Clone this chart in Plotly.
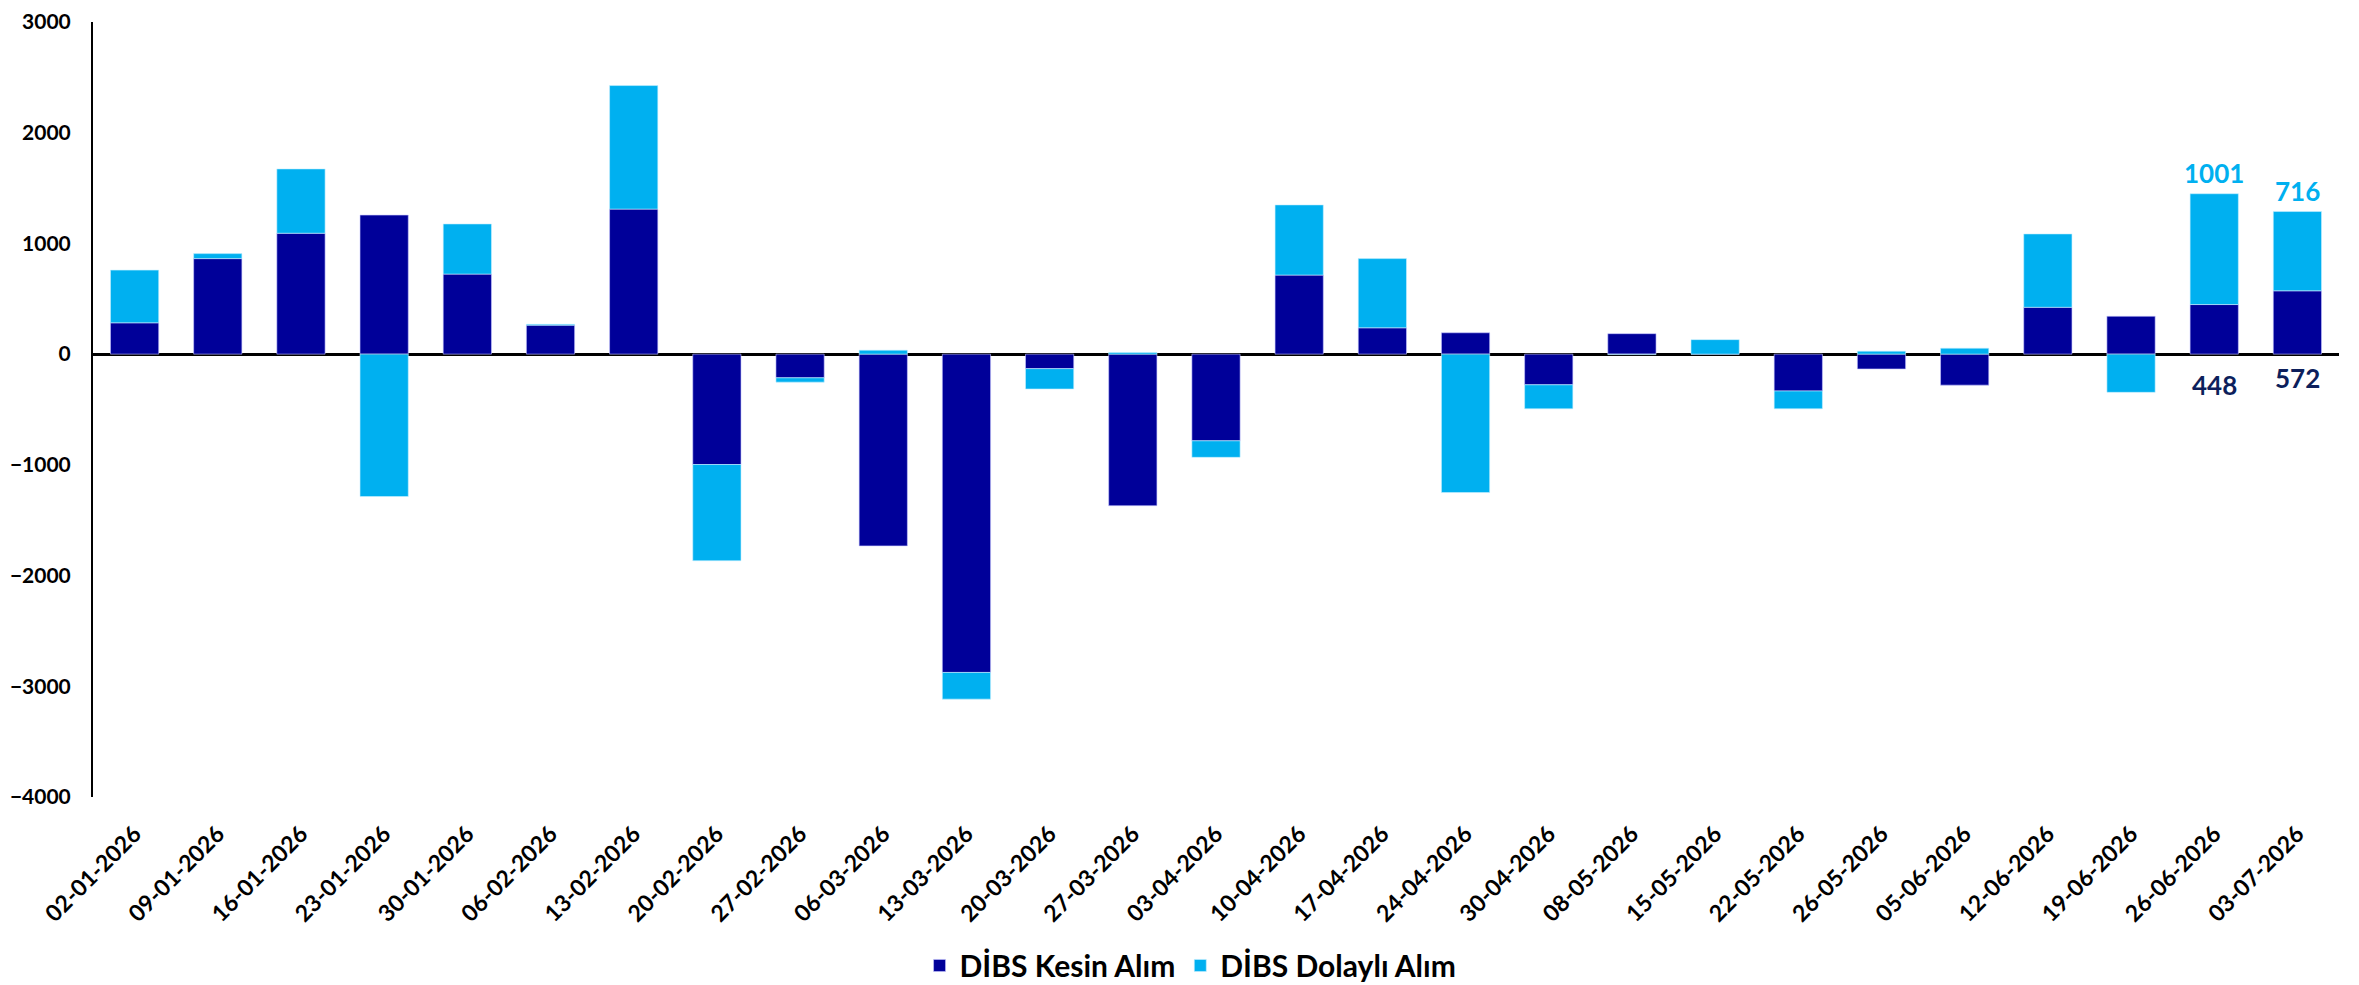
import plotly.graph_objects as go

dates = ["02-01-2026", "09-01-2026", "16-01-2026", "23-01-2026", "30-01-2026", "06-02-2026",
         "13-02-2026", "20-02-2026", "27-02-2026", "06-03-2026", "13-03-2026", "20-03-2026",
         "27-03-2026", "03-04-2026", "10-04-2026", "17-04-2026", "24-04-2026", "30-04-2026",
         "08-05-2026", "15-05-2026", "22-05-2026", "26-05-2026", "05-06-2026", "12-06-2026",
         "19-06-2026", "26-06-2026", "03-07-2026"]

kesin = [283, 863, 1092, 1256, 723, 262, 1310, -997, -214, -1732, -2875, -131, -1369, -783,
         714, 238, 193, -277, 185, 0, -333, -134, -280, 423, 342, 448, 572]

dolayli = [476, 45, 581, -1286, 453, 8, 1116, -869, -39, 36, -241, -184, 15, -149,
           634, 625, -1250, -217, -4, 131, -161, 27, 54, 663, -345, 1001, 716]

y_ticks = [-4000, -3000, -2000, -1000, 0, 1000, 2000, 3000]

labeled = [25, 26]

DARK = "#000099"
LIGHT = "#00B0F0"
LABEL_DARK = "#0D1F5C"
FONT = "Lato, 'Open Sans', Arial, sans-serif"

fig = go.Figure()
fig.add_trace(go.Bar(x=dates, y=kesin, name="DİBS Kesin Alım",
                     marker=dict(color=DARK, line=dict(color="rgba(200,200,255,0.6)", width=1))))
fig.add_trace(go.Bar(x=dates, y=dolayli, name="DİBS Dolaylı Alım",
                     marker=dict(color=LIGHT, line=dict(color="rgba(200,240,255,0.6)", width=1))))

bottom_shift = {25: -31, 26: -24}
for i in labeled:
    top = max(kesin[i], 0) + max(dolayli[i], 0)
    fig.add_annotation(x=dates[i], y=top, text=str(dolayli[i]), showarrow=False,
                       yshift=21, font=dict(family=FONT, size=26, color=LIGHT, weight="bold"))
    fig.add_annotation(x=dates[i], y=0, text=str(kesin[i]), showarrow=False,
                       yshift=bottom_shift[i],
                       font=dict(family=FONT, size=26, color=LABEL_DARK, weight="bold"))

fig.update_layout(
    barmode="relative",
    bargap=0.42,
    width=2351, height=977,
    margin=dict(l=85, r=20, t=14, b=188, autoexpand=False),
    plot_bgcolor="white", paper_bgcolor="white",
    font=dict(family=FONT, size=22, color="black", weight="bold"),
    showlegend=True,
    legend=dict(orientation="h", xref="container", x=0.503, xanchor="center",
                yref="container", y=0.02, yanchor="middle",
                font=dict(family=FONT, size=30, color="black", weight="bold"),
                itemwidth=30, tracegroupgap=0),
)
fig.update_xaxes(type="category", showgrid=False, showline=False, zeroline=False,
                 tickangle=-45, ticks="", ticklabelstandoff=18, automargin=False,
                 tickfont=dict(family=FONT, size=23, color="black", weight="bold"),
                 range=[-0.5, len(dates) - 0.5])
fig.update_yaxes(range=[-4000, 3000], tickvals=y_ticks, showgrid=False,
                 showline=True, linecolor="black", linewidth=2,
                 zeroline=True, zerolinecolor="black", zerolinewidth=3,
                 ticks="", ticklabelstandoff=16, automargin=False,
                 ticklabeloverflow="allow",
                 tickfont=dict(family=FONT, size=21, color="black", weight="bold"))

fig.write_html("out.html")
